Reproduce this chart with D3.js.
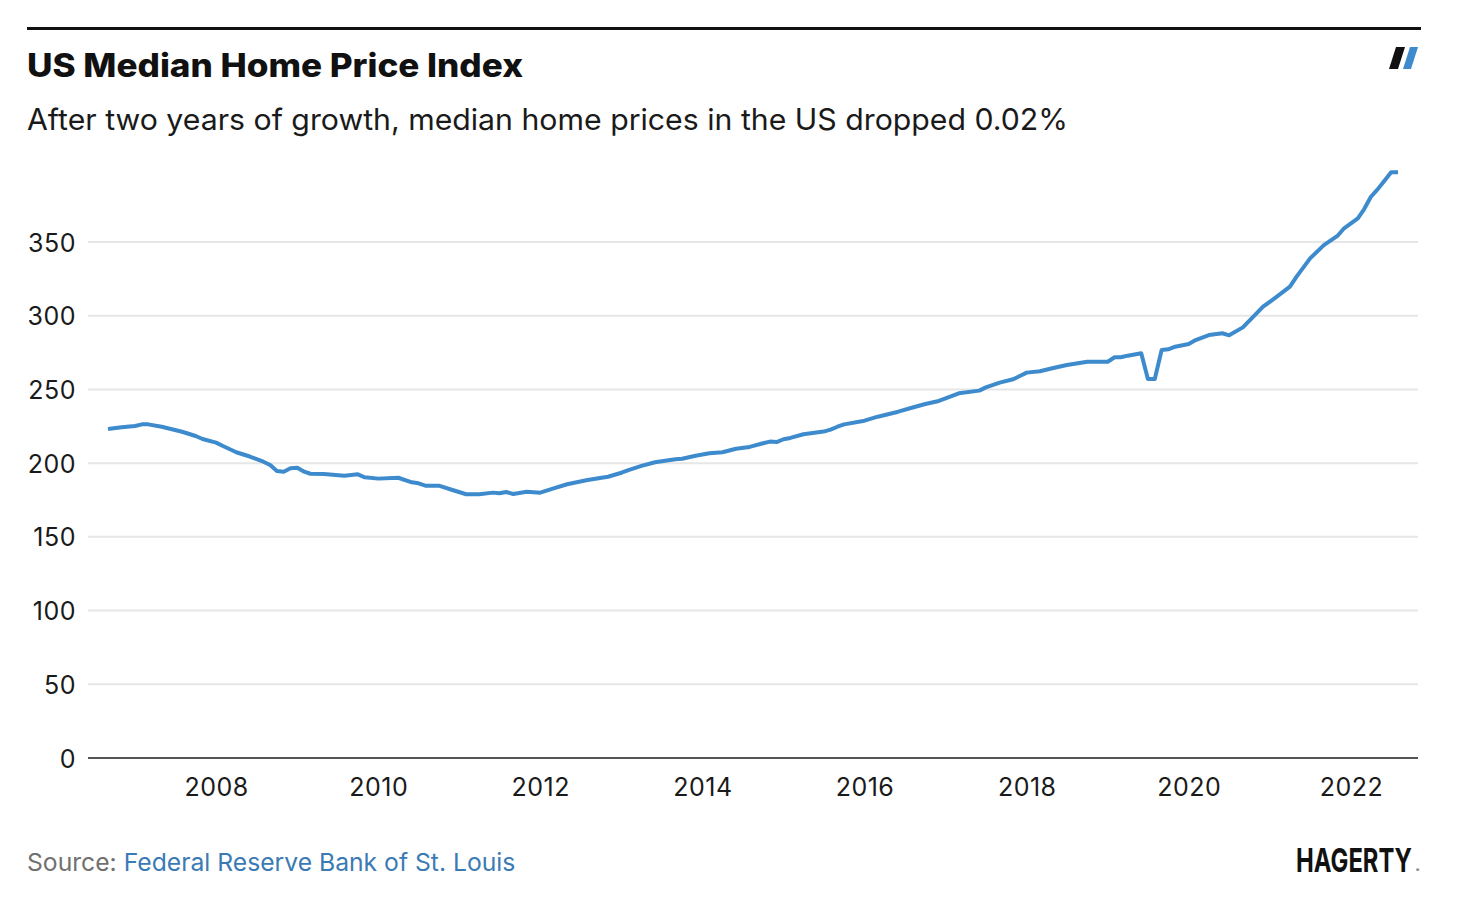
<!DOCTYPE html>
<html>
<head>
<meta charset="utf-8">
<script src="https://cdn.jsdelivr.net/npm/d3@7"></script>
<style>
  html, body { margin: 0; padding: 0; background: #fff; }
  svg { display: block; }
  text { font-family: Inter, "Noto Sans", sans-serif; }
</style>
</head>
<body>
<svg id="chart" width="1472" height="908"></svg>
<script>
const title = "US Median Home Price Index";
const subtitle = "After two years of growth, median home prices in the US dropped 0.02%";
const sourceLabel = "Source:";
const sourceName = "Federal Reserve Bank of St. Louis";

const dates = ["2006-09","2006-11","2007-01","2007-02","2007-03","2007-05","2007-08","2007-10","2007-11","2008-01",
  "2008-02","2008-04","2008-06","2008-08","2008-09","2008-10","2008-11","2008-12","2009-01","2009-02",
  "2009-03","2009-05","2009-08","2009-10","2009-11","2010-01","2010-04","2010-06","2010-07","2010-08",
  "2010-10","2010-12","2011-02","2011-04","2011-06","2011-07","2011-08","2011-09","2011-11","2012-01",
  "2012-03","2012-05","2012-08","2012-11","2013-01","2013-02","2013-04","2013-06","2013-09","2013-10",
  "2013-12","2014-02","2014-04","2014-06","2014-08","2014-10","2014-11","2014-12","2015-01","2015-02",
  "2015-04","2015-07","2015-08","2015-09","2015-10","2016-01","2016-03","2016-06","2016-08","2016-10",
  "2016-12","2017-03","2017-06","2017-07","2017-09","2017-11","2018-01","2018-03","2018-05","2018-07",
  "2018-10","2019-01","2019-02","2019-03","2019-04","2019-06","2019-07","2019-08","2019-09","2019-10",
  "2019-11","2020-01","2020-02","2020-04","2020-06","2020-07","2020-09","2020-12","2021-02","2021-04",
  "2021-05","2021-07","2021-09","2021-11","2021-12","2022-02","2022-03","2022-04","2022-05","2022-06",
  "2022-07","2022-08"];
const values = [223.2,224.3,225.2,226.3,226.3,224.7,221.3,218.4,216.4,213.9,
  211.6,207.4,204.5,201.0,198.7,194.7,194.2,196.5,196.9,194.2,
  192.8,192.6,191.5,192.4,190.4,189.5,190.1,187.0,186.3,184.7,
  184.7,181.8,178.9,178.9,180.0,179.6,180.4,179.1,180.6,180.0,
  182.9,185.7,188.6,190.8,193.5,195.3,198.1,200.6,202.6,203.0,
  205.0,206.7,207.4,209.8,211.0,213.5,214.6,214.3,216.2,217.1,
  219.6,221.4,222.7,224.7,226.3,228.8,231.5,234.9,237.6,240.1,
  242.2,247.4,249.2,251.4,254.6,256.9,261.4,262.3,264.5,266.6,
  268.8,268.8,271.8,271.8,272.9,274.5,257.1,257.1,276.7,277.2,
  279.0,280.8,283.5,286.9,288.1,286.7,292.1,306.1,312.9,319.7,
  326.5,338.9,347.9,354.1,359.3,366.1,372.2,380.7,385.7,391.6,
  397.3,397.3];
const yTicks = [0, 50, 100, 150, 200, 250, 300, 350];
const xTickYears = [2008, 2010, 2012, 2014, 2016, 2018, 2020, 2022];

const parse = d3.timeParse("%Y-%m");
const data = dates.map((d, i) => ({ date: parse(d), value: values[i] }));

const svg = d3.select("#chart");

// top rule
svg.append("rect").attr("x", 27).attr("y", 27).attr("width", 1394).attr("height", 3).attr("fill", "#111");

// logo slashes
svg.append("path").attr("d", "M1396,47 L1405,47 L1398,69 L1389,69 Z").attr("fill", "#111");
svg.append("path").attr("d", "M1410,47 L1418,47 L1411,69 L1403,69 Z").attr("fill", "#3d8bcd");

svg.append("text").attr("x", 27).attr("y", 77).attr("font-size", 32).attr("font-weight", 800)
  .attr("fill", "#111").attr("textLength", 496).attr("lengthAdjust", "spacingAndGlyphs").text(title);
svg.append("text").attr("x", 27).attr("y", 129.5).attr("font-size", 29.5).attr("font-weight", 400)
  .attr("fill", "#1a1a1a").attr("textLength", 1041).attr("lengthAdjust", "spacingAndGlyphs").text(subtitle);

const x = d3.scaleTime().domain(d3.extent(data, d => d.date)).range([108, 1398]);
const y = d3.scaleLinear().domain([0, 400]).range([758, 758 - 8 * 73.714]);

const left = 88, right = 1418;

// gridlines
svg.append("g").selectAll("line").data(yTicks.filter(t => t > 0)).join("line")
  .attr("x1", left).attr("x2", right)
  .attr("y1", d => y(d)).attr("y2", d => y(d))
  .attr("stroke", "#e6e6e6").attr("stroke-width", 2);

// y labels
const yAxis = d3.axisLeft(y).tickValues(yTicks).tickSize(0).tickPadding(0);
const gy = svg.append("g").attr("transform", "translate(76,0)").call(yAxis);
gy.select(".domain").remove();
gy.selectAll("text").attr("font-size", 25).attr("fill", "#1a1a1a")
  .attr("font-family", "Inter, sans-serif").attr("letter-spacing", 0.5).attr("dy", "0.36em");

// x axis
const xAxis = d3.axisBottom(x).tickValues(xTickYears.map(yr => new Date(yr, 0, 1)))
  .tickFormat(d3.timeFormat("%Y")).tickSize(0).tickPadding(20);
const gx = svg.append("g").attr("transform", "translate(0,758)").call(xAxis);
gx.select(".domain").remove();
gx.selectAll("text").attr("font-size", 25).attr("fill", "#1a1a1a")
  .attr("font-family", "Inter, sans-serif").attr("letter-spacing", 0.5);
svg.append("line").attr("x1", left).attr("x2", right).attr("y1", 758).attr("y2", 758)
  .attr("stroke", "#555").attr("stroke-width", 2);

// line
const line = d3.line().x(d => x(d.date)).y(d => y(d.value));
svg.append("path").datum(data).attr("d", line).attr("fill", "none")
  .attr("stroke", "#3d8bcd").attr("stroke-width", 4).attr("stroke-linejoin", "round");

// source
const src = svg.append("text").attr("x", 27).attr("y", 871).attr("font-size", 24.7);
src.append("tspan").attr("fill", "#707070").text(sourceLabel + " ");
src.append("tspan").attr("fill", "#3a7ab5").text(sourceName);

// HAGERTY wordmark: fit natural width to 116px, stretch vertically to ~24px caps
const logo = svg.append("text").attr("fill", "#111")
  .attr("font-family", "'Liberation Sans Narrow', 'Arial Narrow', 'Liberation Sans', sans-serif")
  .attr("font-weight", 700).attr("font-size", 30).text("HAGERTY");
const w = logo.node().getComputedTextLength();
const fs = 30 * 116 / w;
const sy = Math.max(1, 24 / (0.72 * fs));
logo.attr("font-size", fs).attr("transform", `translate(1296,872) scale(1,${sy})`);
svg.append("text").attr("x", 1416).attr("y", 872).attr("font-size", 5)
  .attr("fill", "#111").text("®");
</script>
</body>
</html>
